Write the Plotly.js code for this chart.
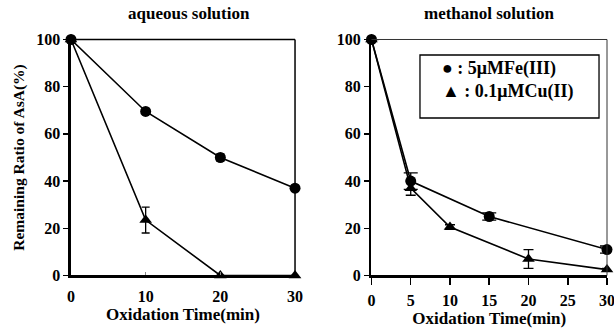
<!DOCTYPE html>
<html><head><meta charset="utf-8">
<script src="https://cdn.plot.ly/plotly-3.0.1.min.js"></script>
<style>html,body{margin:0;padding:0;background:#fff}</style>
</head><body><div id="chart" style="width:614px;height:331px"></div>
<script>
// aqueous solution
const aqTime = [0, 10, 20, 30];
const aqFe = [100, 69.5, 50, 37];
const aqFeErr = [0, 1, 1.5, 1];
const aqCu = [100, 23.5, 0, 0];
const aqCuErr = [0, 5.5, 0, 0];
// methanol solution
const meFeTime = [0, 5, 15, 30];
const meFe = [100, 40, 25, 11];
const meFeErr = [0, 3.5, 1.5, 1.5];
const meCuTime = [0, 5, 10, 20, 30];
const meCu = [100, 37, 20.5, 7, 2.5];
const meCuErr = [0, 3, 1, 4, 0.5];
const titles = ["aqueous solution", "methanol solution"];
const legendLabels = [": 5\u03bcMFe(III)", ": 0.1\u03bcMCu(II)"];

const F = "Liberation Serif, Times New Roman, serif";
function tr(x, y, e, sym, xa, ya, cw) {
  return {x: x, y: y, type: 'scatter', mode: 'lines+markers', xaxis: xa, yaxis: ya,
    line: {color: '#000', width: 1.6},
    marker: {symbol: sym, size: 11, color: '#000'},
    error_y: {type: 'data', array: e, visible: true, color: '#000', thickness: 1.3, width: cw},
    cliponaxis: false, showlegend: false};
}
const data = [
  tr(aqTime, aqFe, aqFeErr, 'circle', 'x', 'y', 4),
  tr(aqTime, aqCu, aqCuErr, 'triangle-up', 'x', 'y', 4),
  tr(meFeTime, meFe, meFeErr, 'circle', 'x2', 'y2', 7),
  tr(meCuTime, meCu, meCuErr, 'triangle-up', 'x2', 'y2', 5)
];
const tf = {family: F, size: 16, color: '#000', weight: 'bold'};
const atf = {family: F, size: 17, color: '#000', weight: 'bold'};
function xax(dom, dt, ticks, tl, tc) {
  return {domain: dom, range: [0, 30], dtick: dt, tick0: 0, showgrid: false, zeroline: false,
    showline: true, linecolor: '#000', linewidth: 2.5, mirror: false, ticks: ticks, ticklen: tl,
    tickwidth: 1.5, tickcolor: tc, tickfont: tf, fixedrange: true, ticklabelstandoff: ticks === 'inside' ? 5 : 2,
    ticklabeloverflow: 'allow',
    title: {text: 'Oxidation Time(min)', font: atf, standoff: 4}};
}
function yax(anchor) {
  return {domain: [0.1677, 0.8807], range: [0, 100], dtick: 20, showgrid: false, zeroline: false,
    showline: true, linecolor: '#000', linewidth: 2.5, ticks: 'outside', ticklen: 5,
    tickwidth: 1.5, tickcolor: '#000', tickfont: tf, anchor: anchor, ticklabelstandoff: 0};
}
const layout = {
  width: 614, height: 331, margin: {l: 0, r: 0, t: 0, b: 0},
  paper_bgcolor: '#fff', plot_bgcolor: '#fff', showlegend: false,
  xaxis: xax([0.1156, 0.4805], 10, 'inside', 3, '#888'),
  yaxis: Object.assign(yax('x'), {title: {text: 'Remaining Ratio of AsA(%)', font: {family: F, size: 15.5, color: '#000', weight: 'bold'}, standoff: 8}}),
  xaxis2: Object.assign(xax([0.605, 0.9886], 5, 'outside', 7, '#000'), {anchor: 'y2'}),
  yaxis2: yax('x2'),
  shapes: [
    {type: 'line', xref: 'x domain', yref: 'y domain', x0: 0, x1: 1, y0: 1, y1: 1, line: {color: '#000', width: 1.5}},
    {type: 'line', xref: 'x domain', yref: 'y domain', x0: 1, x1: 1, y0: 0, y1: 1, line: {color: '#000', width: 1.5}},
    {type: 'line', xref: 'x2 domain', yref: 'y2 domain', x0: 0, x1: 1, y0: 1, y1: 1, line: {color: '#333', width: 1}},
    {type: 'line', xref: 'x2 domain', yref: 'y2 domain', x0: 1, x1: 1, y0: 0, y1: 1, line: {color: '#333', width: 1}},
    {type: 'rect', xref: 'paper', yref: 'paper', x0: 0.684, x1: 0.9756, y0: 0.6435, y1: 0.8338, line: {color: '#000', width: 1.3}, fillcolor: '#fff'}
  ],
  annotations: [
    {text: titles[0], xref: 'paper', yref: 'paper', x: 0.3078, y: 0.958, xanchor: 'center', yanchor: 'middle', showarrow: false, font: {family: F, size: 17, color: '#000', weight: 'bold'}},
    {text: titles[1], xref: 'paper', yref: 'paper', x: 0.7964, y: 0.958, xanchor: 'center', yanchor: 'middle', showarrow: false, font: {family: F, size: 17, color: '#000', weight: 'bold'}},
    {text: '\u25cf ' + legendLabels[0] + '<br>\u25b2 ' + legendLabels[1], xref: 'paper', yref: 'paper',
      x: 0.7166, y: 0.758, xanchor: 'left', yanchor: 'middle', showarrow: false, align: 'left',
      font: {family: F, size: 18, color: '#000', weight: 'bold'}}
  ]
};
Plotly.newPlot('chart', data, layout, {staticPlot: true, displayModeBar: false});
</script></body></html>
